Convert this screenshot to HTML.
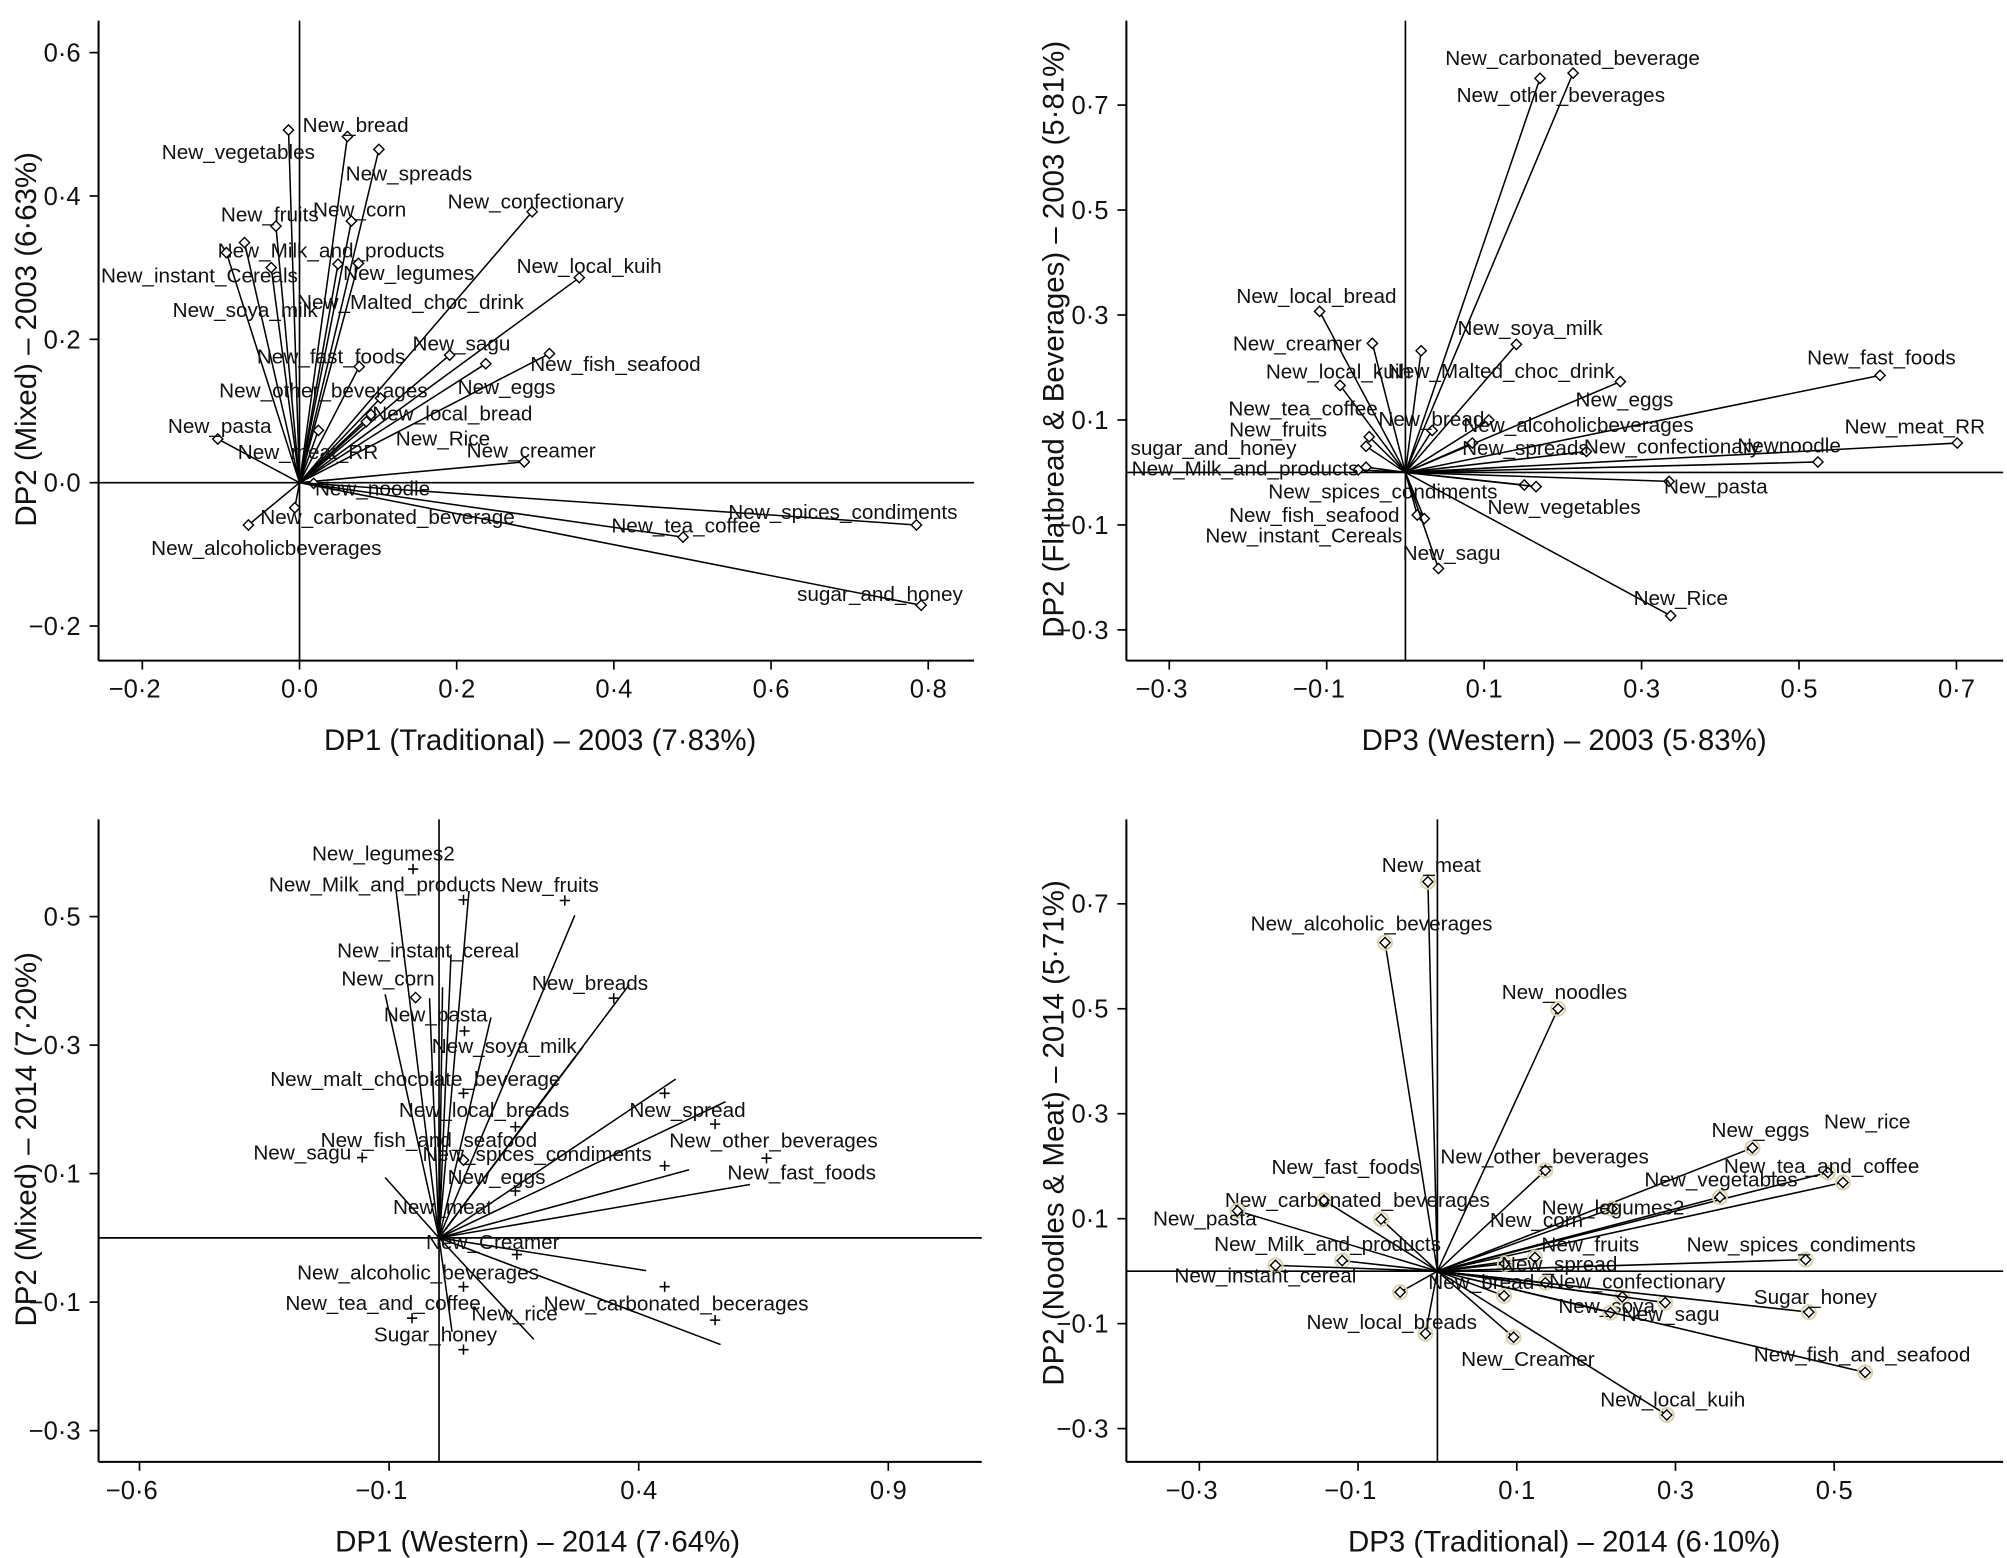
<!DOCTYPE html>
<html><head><meta charset="utf-8"><title>Biplots of dietary patterns, 2003 and 2014</title>
<style>
html,body{margin:0;padding:0;background:#fff;}
svg{display:block;font-family:"Liberation Sans",Arial,sans-serif;}
.lbl{font-size:16.2px;fill:#111;}
.tick{font-size:20px;fill:#111;}
.title{font-size:23px;fill:#111;}
</style></head>
<body>
<svg id="fig" width="2007" height="1558" viewBox="0 0 1568 1217" xmlns="http://www.w3.org/2000/svg"></svg>
<script>
// ---------- Panel 1: DP1 vs DP2 (2003) ----------
const p1Labels = ["New_vegetables","New_bread","New_spreads","New_corn","New_fruits","New_confectionary","New_local_kuih","New_Milk_and_products","New_instant_Cereals","New_soya_milk","New_legumes","New_Malted_choc_drink","New_fast_foods","New_sagu","New_eggs","New_fish_seafood","New_other_beverages","New_local_bread","New_Rice","New_meat_RR","New_pasta","New_creamer","New_noodle","New_carbonated_beverage","New_alcoholicbeverages","New_tea_coffee","New_spices_condiments","sugar_and_honey"];
const p1X = [-0.014,0.061,0.101,0.066,-0.030,0.296,0.356,-0.070,-0.093,-0.036,0.049,0.075,0.076,0.191,0.237,0.318,0.103,0.091,0.085,0.024,-0.104,0.286,0.018,-0.006,-0.065,0.488,0.785,0.791];
const p1Y = [0.492,0.483,0.465,0.365,0.358,0.378,0.286,0.335,0.321,0.300,0.305,0.306,0.162,0.178,0.166,0.180,0.118,0.095,0.085,0.073,0.061,0.029,-0.001,-0.035,-0.059,-0.076,-0.059,-0.171];
const p1LabDx = [-99,-35,-26,-30,-43,-66,-49,-21,-98,-77,4,-48,-80,-29,-22,-15,-126,1,23,-63,-39,-45,1,-27,-76,-56,-147,-97];
const p1LabDy = [17,-9,19,-9,-9,-8,-9,6,18,33,7,30,-8,-9,18,8,-6,-1,13,17,-10,-9,4,7,18,-9,-10,-9];
const p1XTicks = [-0.2,0,0.2,0.4,0.6,0.8];
const p1YTicks = [-0.2,0,0.2,0.4,0.6];

// ---------- Panel 2: DP3 vs DP2 (2003) ----------
const p2Labels = ["New_carbonated_beverage","New_other_beverages","New_local_bread","New_creamer","New_soya_milk","New_Malted_choc_drink","New_local_kuih","New_eggs","New_fast_foods","New_alcoholicbeverages","New_bread","New_tea_coffee","New_spreads","New_meat_RR","New_fruits","New_confectionary","Newnoodle","sugar_and_honey","New_Milk_and_products","New_pasta","New_spices_condiments","New_vegetables","New_fish_seafood","New_instant_Cereals","New_sagu","New_Rice"];
const p2X = [0.171,0.213,-0.109,-0.042,0.141,0.020,-0.083,0.273,0.603,0.106,0.034,-0.046,0.085,0.701,-0.050,0.230,0.524,-0.050,-0.060,0.335,0.151,0.166,0.015,0.024,0.042,0.337];
const p2Y = [0.751,0.761,0.307,0.246,0.244,0.232,0.166,0.173,0.185,0.100,0.080,0.068,0.056,0.056,0.050,0.040,0.020,0.010,0.005,-0.017,-0.024,-0.027,-0.081,-0.088,-0.183,-0.273];
const p2LabDx = [-74,-91,-65,-109,-46,-26,-58,-35,-57,-20,-42,-110,-8,-88,-107,-2,-63,-184,-177,-4,-200,-38,-147,-171,-28,-29];
const p2LabDy = [-16,17,-12,0,-13,16,-11,14,-14,4,-9,-22,4,-13,-13,-4,-13,-15,-1,4,5,16,0,13,-12,-14];
const p2XTicks = [-0.3,-0.1,0.1,0.3,0.5,0.7];
const p2YTicks = [-0.3,-0.1,0.1,0.3,0.5,0.7];

// ---------- Panel 3: DP1 vs DP2 (2014) ----------
const p3Labels = ["New_legumes2","New_Milk_and_products","New_fruits","New_instant_cereal","New_corn","New_breads","New_pasta","New_soya_milk","New_malt_chocolate_beverage","New_local_breads","New_spread","New_fish_and_seafood","New_other_beverages","New_sagu","New_spices_condiments","New_fast_foods","New_eggs","New_meat","New_Creamer","New_alcoholic_beverages","New_tea_and_coffee","New_carbonated_becerages","New_rice","Sugar_honey"];
const p3X = [-0.052,0.049,0.252,0.024,-0.047,0.350,0.051,0.452,0.049,0.153,0.553,0.050,0.656,-0.154,0.049,0.452,0.153,0.000,0.156,0.049,-0.054,0.553,0.452,0.049];
const p3Y = [0.574,0.526,0.525,0.441,0.374,0.373,0.322,0.225,0.225,0.173,0.177,0.150,0.124,0.125,0.121,0.112,0.073,0.050,-0.026,-0.076,-0.125,-0.128,-0.076,-0.174];
const p3Marks = ["+","+","+","","d","+","+","+","+","+","+","","+","+","d","+","+","","+","+","+","+","+","+"];
const p3LabDx = [-79,-152,-50,-89,-58,-64,-63,-182,-151,-91,-67,-112,-76,-85,-32,49,-53,-36,-71,-130,-99,-134,-151,-70];
const p3LabDy = [-12,-12,-12,-3,-15,-12,-13,-37,-11,-13,-11,-1,-14,-4,-5,5,-11,1,-10,-11,-12,-13,21,-12];
const p3LineX = [-0.086,0.060,0.272,-0.108,0.024,-0.019,0.007,0.104,0.381,0.289,0.235,0.474,0.574,0.501,0.623,-0.108,0.415,0.564,0.190,0.026];
const p3LineY = [0.540,0.540,0.502,0.379,0.441,0.373,0.390,0.343,0.394,0.298,0.244,0.247,0.212,0.106,0.083,0.094,-0.051,-0.166,-0.158,-0.146];
const p3XTicks = [-0.6,-0.1,0.4,0.9];
const p3YTicks = [-0.3,-0.1,0.1,0.3,0.5];

// ---------- Panel 4: DP3 vs DP2 (2014) ----------
const p4Labels = ["New_meat","New_alcoholic_beverages","New_noodles","New_eggs","New_rice","New_tea_and_coffee","New_vegetables","New_legumes2","New_other_beverages","New_fast_foods","New_carbonated_beverages","New_pasta","New_Milk_and_products","New_instant_cereal","New_fruits","New_spread","New_spices_condiments","New_confectionary","New_bread","","New_soya","New_sagu","","Sugar_honey","New_local_breads","New_Creamer","New_fish_and_seafood","New_local_kuih","New_corn"];
const p4X = [-0.012,-0.066,0.152,0.397,0.492,0.511,0.356,0.220,0.136,-0.143,-0.071,-0.252,-0.120,-0.204,0.123,0.085,0.464,0.136,-0.047,0.084,0.233,0.287,0.218,0.468,-0.015,0.096,0.539,0.289,0.100];
const p4Y = [0.742,0.626,0.500,0.235,0.188,0.169,0.141,0.119,0.192,0.135,0.099,0.115,0.020,0.011,0.026,0.014,0.022,-0.022,-0.040,-0.047,-0.049,-0.060,-0.079,-0.078,-0.119,-0.126,-0.193,-0.274,0.080];
const p4Marks = ["d","d","d","d","d","d","d","d","d","d","d","d","d","d","d","d","d","d","d","d","d","d","d","d","d","d","d","d",""];
const p4LabDx = [-36,-105,-44,-32,-3,-93,-59,-55,-82,-41,-122,-66,-100,-79,5,-3,-93,3,22,0,-50,-34,0,-43,-93,-41,-87,-52,-21];
const p4LabDy = [-13,-15,-13,-14,-40,-13,-14,-1,-11,-26,-15,6,-13,8,-10,0,-12,-1,-8,0,7,9,0,-12,-9,17,-14,-12,-7];
const p4XTicks = [-0.3,-0.1,0.1,0.3,0.5];
const p4YTicks = [-0.3,-0.1,0.1,0.3,0.5,0.7];

const NS = "http://www.w3.org/2000/svg";
const svg = document.getElementById("fig");
function mk(tag, attrs, parent){
  const e = document.createElementNS(NS, tag);
  for (const k in attrs) e.setAttribute(k, attrs[k]);
  (parent||svg).appendChild(e);
  return e;
}
function fmt(v){
  let s = Math.abs(v).toFixed(1).replace(".", "\u00B7");
  return (v < -1e-9 ? "\u2212" : "") + s;
}
function drawPanel(cfg){
  const g = mk("g", {});
  
  
  const sx = v => cfg.x0 + cfg.sx * v;
  const sy = v => cfg.y0 - cfg.sy * v;
  const ax = mk("line", {x1:cfg.left, y1:cfg.top, x2:cfg.left, y2:cfg.bottom, stroke:"#000","stroke-width":1.6}, g);
  
  
  const bx = mk("line", {x1:cfg.left, y1:cfg.bottom, x2:cfg.right, y2:cfg.bottom, stroke:"#000","stroke-width":1.6}, g);
  
  
  const zh = mk("line", {x1:cfg.left, y1:sy(0), x2:cfg.right, y2:sy(0), stroke:"#000","stroke-width":1.3}, g);
  
  
  const zv = mk("line", {x1:sx(0), y1:cfg.top, x2:sx(0), y2:cfg.bottom, stroke:"#000","stroke-width":1.3}, g);
  
  
  cfg.xticks.forEach(v => {
    const t = mk("line", {x1:sx(v), y1:cfg.bottom, x2:sx(v), y2:cfg.bottom+7, stroke:"#000","stroke-width":1.3}, g);
    
    
    const tl = mk("text", {x:sx(v)-(v<0?6:0), y:cfg.bottom+29, "text-anchor":"middle", class:"tick"}, g);
    tl.textContent = fmt(v);
    
    
  });
  cfg.yticks.forEach(v => {
    const t = mk("line", {x1:cfg.left-7, y1:sy(v), x2:cfg.left, y2:sy(v), stroke:"#000","stroke-width":1.3}, g);
    
    
    const tl = mk("text", {x:cfg.left-14, y:sy(v)+7, "text-anchor":"end", class:"tick"}, g);
    tl.textContent = fmt(v);
    
    
  });
  if (cfg.lineX) {
    cfg.lineX.forEach((v,i) => {
      const l = mk("line", {x1:sx(0), y1:sy(0), x2:sx(v), y2:sy(cfg.lineY[i]), stroke:"#000","stroke-width":1.2}, g);
      
      
    });
  }
  cfg.labels.forEach((lab,i) => {
    const px = sx(cfg.xs[i]), py = sy(cfg.ys[i]);
    const m = cfg.marks ? cfg.marks[i] : "d";
    if (!cfg.lineX && m !== "") {
      const l = mk("line", {x1:sx(0), y1:sy(0), x2:px, y2:py, stroke:"#000","stroke-width":1.2}, g);
      
      
    }
    if (m === "d") {
      const r = 4;
      if (cfg.halo) { mk("circle",{cx:px,cy:py,r:5.5,fill:"none",stroke:cfg.halo,"stroke-width":1.5}, g); }
      const d = mk("polygon", {points:`${px},${py-r} ${px+r},${py} ${px},${py+r} ${px-r},${py}`, fill:cfg.fill, stroke:"#000","stroke-width":1.1}, g);
      
      
    } else if (m === "+") {
      const p = mk("path", {d:`M${px-4},${py}H${px+4}M${px},${py-4}V${py+4}`, stroke:"#000","stroke-width":1.2, fill:"none"}, g);
      
      
    }
    if (lab) {
      const t = mk("text", {x:px+cfg.ldx[i], y:py+cfg.ldy[i]+5.5, class:"lbl"}, g);
      t.textContent = lab;
      
      
    }
  });
  const xt = mk("text", {x:cfg.xtx, y:cfg.bottom+70, "text-anchor":"middle", class:"title"}, g);
  xt.textContent = cfg.xtitle;
  
  
  const yt = mk("text", {x:0, y:0, "text-anchor":"middle", class:"title", transform:`translate(${cfg.ytx},${cfg.yty}) rotate(-90)`}, g);
  yt.textContent = cfg.ytitle;
  
  
}

drawPanel({name:"panel-dp1-dp2-2003", left:77, top:16, bottom:516, right:761, x0:234, sx:614, y0:377, sy:560,
  xticks:p1XTicks, yticks:p1YTicks, labels:p1Labels, xs:p1X, ys:p1Y, ldx:p1LabDx, ldy:p1LabDy, fill:"#fff",
  xtitle:"DP1 (Traditional) \u2013 2003 (7\u00B783%)", xtx:422, ytitle:"DP2 (Mixed) \u2013 2003 (6\u00B763%)", ytx:28, yty:265});
drawPanel({name:"panel-dp3-dp2-2003", left:880, top:16, bottom:516, right:1565, x0:1098, sx:615, y0:369, sy:410,
  xticks:p2XTicks, yticks:p2YTicks, labels:p2Labels, xs:p2X, ys:p2Y, ldx:p2LabDx, ldy:p2LabDy, fill:"#fff",
  xtitle:"DP3 (Western) \u2013 2003 (5\u00B783%)", xtx:1222, ytitle:"DP2 (Flatbread & Beverages) \u2013 2003 (5\u00B781%)", ytx:831, yty:265});
drawPanel({name:"panel-dp1-dp2-2014", left:77, top:640, bottom:1142, right:767, x0:343, sx:390, y0:967, sy:502,
  xticks:p3XTicks, yticks:p3YTicks, labels:p3Labels, xs:p3X, ys:p3Y, marks:p3Marks, ldx:p3LabDx, ldy:p3LabDy, fill:"#fff",
  lineX:p3LineX, lineY:p3LineY,
  xtitle:"DP1 (Western) \u2013 2014 (7\u00B764%)", xtx:420, ytitle:"DP2 (Mixed) \u2013 2014 (7\u00B720%)", ytx:28, yty:890});
drawPanel({name:"panel-dp3-dp2-2014", left:880, top:640, bottom:1142, right:1565, x0:1123, sx:620, y0:993, sy:410,
  xticks:p4XTicks, yticks:p4YTicks, labels:p4Labels, xs:p4X, ys:p4Y, marks:p4Marks, ldx:p4LabDx, ldy:p4LabDy, fill:"#fff", halo:"#d8d3a8",
  xtitle:"DP3 (Traditional) \u2013 2014 (6\u00B710%)", xtx:1222, ytitle:"DP2 (Noodles & Meat) \u2013 2014 (5\u00B771%)", ytx:831, yty:885});
</script>
</body></html>
